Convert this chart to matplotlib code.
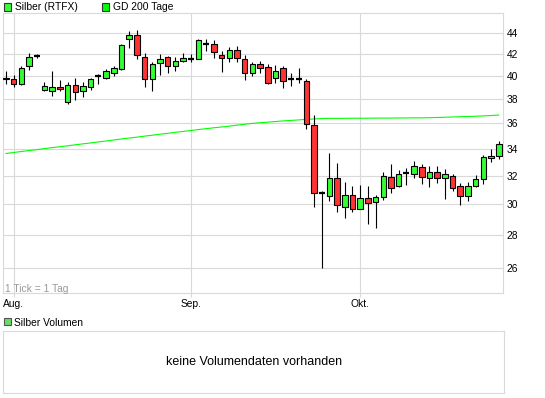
import matplotlib
matplotlib.use("Agg")
import matplotlib.pyplot as plt
import numpy as np
from matplotlib.patches import Rectangle
from matplotlib.ticker import NullLocator

plt.rcParams["font.family"] = ["Liberation Sans", "DejaVu Sans"]

# -- Daily candles, 29.07. - 27.10. (one entry per trading day)
opens = [39.70, 39.70, 39.25, 40.87, 41.80, 38.78, 38.69, 39.04, 37.74, 39.22,
         38.69, 39.04, 40.00, 39.85, 40.30, 40.60, 43.43, 43.81, 41.72, 39.70,
         41.16, 41.72, 40.87, 41.34, 41.59, 41.53, 42.95, 42.95, 41.90, 41.62,
         42.38, 41.53, 40.30, 41.06, 40.78, 39.85, 40.69, 39.74, 39.74, 39.59,
         35.84, 30.81, 30.60, 31.86, 29.85, 30.67, 29.72, 30.47, 30.19, 30.49,
         31.93, 31.30, 32.17, 32.15, 32.59, 31.81, 32.25, 31.81, 32.00, 31.30,
         30.56, 31.30, 31.74, 33.28, 33.43]
highs = [40.40, 40.05, 40.87, 42.12, 42.06, 39.43, 40.42, 39.60, 39.43, 39.85,
         39.46, 39.85, 40.20, 40.60, 40.94, 42.95, 44.20, 44.30, 42.10, 41.25,
         42.00, 41.81, 41.70, 42.10, 42.00, 43.43, 43.43, 43.33, 42.28, 42.67,
         42.76, 41.94, 41.25, 41.34, 41.06, 40.97, 40.87, 40.30, 40.69, 39.77,
         36.65, 30.95, 33.63, 32.89, 31.53, 31.28, 31.37, 31.30, 30.65, 32.27,
         32.86, 32.44, 32.57, 33.06, 32.84, 32.69, 32.69, 32.49, 32.15, 31.46,
         31.53, 32.05, 33.50, 33.95, 34.55]
lows = [39.30, 39.00, 39.20, 40.56, 41.60, 38.69, 38.24, 38.69, 37.60, 37.90,
        38.15, 38.78, 39.28, 39.76, 40.00, 40.50, 42.57, 41.50, 39.00, 38.69,
        40.12, 40.30, 40.40, 41.25, 41.25, 41.53, 42.28, 41.62, 40.37, 41.31,
        41.25, 39.64, 40.03, 40.30, 39.30, 39.39, 38.96, 39.13, 39.39, 35.53,
        29.85, 26.04, 30.26, 29.47, 29.09, 29.53, 29.72, 28.70, 28.47, 30.28,
        30.77, 31.23, 31.37, 31.86, 31.44, 31.23, 31.51, 30.40, 30.91, 29.96,
        30.26, 31.23, 31.39, 32.99, 33.18]
closes = [39.85, 39.25, 40.69, 41.72, 41.80, 39.13, 39.04, 38.87, 39.22, 38.60,
          39.13, 39.70, 40.00, 40.40, 40.69, 42.86, 43.81, 41.90, 39.70, 41.06,
          41.53, 40.87, 41.34, 41.62, 41.59, 43.33, 42.95, 42.19, 41.62, 42.38,
          41.62, 40.30, 41.06, 40.69, 39.33, 40.40, 39.59, 39.74, 39.74, 35.92,
          30.77, 30.81, 31.86, 29.96, 30.67, 29.70, 30.42, 30.07, 30.49, 32.00,
          31.12, 32.15, 32.17, 32.67, 31.88, 32.25, 31.81, 32.10, 31.12, 30.56,
          31.30, 31.74, 33.36, 33.43, 34.37]
# GD 200 Tage
sma200 = [33.63, 33.70, 33.78, 33.85, 33.92, 34.00, 34.07, 34.14, 34.21, 34.29,
          34.36, 34.43, 34.51, 34.58, 34.66, 34.74, 34.81, 34.88, 34.96, 35.03,
          35.11, 35.18, 35.26, 35.33, 35.40, 35.48, 35.55, 35.62, 35.68, 35.75,
          35.83, 35.90, 35.97, 36.02, 36.07, 36.12, 36.17, 36.21, 36.25, 36.30,
          36.33, 36.36, 36.38, 36.38, 36.38, 36.39, 36.39, 36.39, 36.40, 36.40,
          36.40, 36.41, 36.41, 36.42, 36.42, 36.43, 36.45, 36.47, 36.49, 36.51,
          36.53, 36.55, 36.58, 36.61, 36.65]

month_pos = [1, 24, 46]
month_labels = ["Aug.", "Sep.", "Okt."]
y_ticks = [26, 28, 30, 32, 34, 36, 38, 40, 42, 44]

W, H = 545, 398
GRID = "#d9d9d9"
GREEN = "#33ff33"
RED = "#ff3333"
FS = 7.4


def fx(px):
    return px / W


def fy(py):
    return 1 - py / H


fig = plt.figure(figsize=(W / 100, H / 100), dpi=100)

# -- price panel
ax = fig.add_axes([fx(3), fy(293), 500 / W, 280 / H])
ax.set_yscale("log")
ax.set_ylim(24.61, 46.05)
ax.set_xlim(-0.39, 64.55)

idx = np.arange(len(opens))
o = np.array(opens)
c = np.array(closes)
doji = np.isclose(o, c)
colors = np.array([GREEN if cc > oo else RED for oo, cc in zip(o, c)])

ax.plot(idx, sma200, color="#00ff00", lw=0.8, zorder=2)
ax.vlines(idx, lows, highs, color="black", lw=0.8, zorder=3)
ax.bar(idx[~doji], np.abs(c - o)[~doji], bottom=np.minimum(o, c)[~doji],
       width=0.72, color=colors[~doji], edgecolor="black", lw=0.8, zorder=4)
ax.hlines(o[doji], idx[doji] - 0.38, idx[doji] + 0.38, color="black", lw=1.6, zorder=4)

ax.yaxis.tick_right()
ax.yaxis.set_minor_locator(NullLocator())
ax.set_yticks(y_ticks)
ax.set_yticklabels([str(t) for t in y_ticks])
ax.set_xticks(month_pos)
ax.set_xticklabels(month_labels)
ax.tick_params(axis="y", length=0, pad=2.5, labelsize=FS)
ax.tick_params(axis="x", length=3, color=GRID, pad=1.5, labelsize=FS)
ax.grid(True, color=GRID, lw=0.8, zorder=0)
for s in ax.spines.values():
    s.set_color(GRID)
    s.set_linewidth(0.8)

fig.text(fx(5), fy(291.5), "1 Tick = 1 Tag", fontsize=FS, color="#999999", va="baseline")


# -- legends
def legend_box(x, y, fill, edge):
    fig.add_artist(Rectangle((fx(x), fy(y + 7)), 7 / W, 7 / H, transform=fig.transFigure,
                             facecolor=fill, edgecolor=edge, lw=0.8))


legend_box(3.5, 3.5, GREEN, "#333333")
fig.text(fx(15), fy(10.5), "Silber (RTFX)", fontsize=FS, va="baseline")
legend_box(102, 3.5, "#00ff00", "#333333")
fig.text(fx(113), fy(10.5), "GD 200 Tage", fontsize=FS, va="baseline")

legend_box(3.5, 318, "#66dd66", "#555555")
fig.text(fx(14), fy(325.5), "Silber Volumen", fontsize=FS, va="baseline")

# -- volume panel (empty)
ax2 = fig.add_axes([fx(2.8), fy(393.4), 501.7 / W, 62.7 / H])
ax2.set_xticks([])
ax2.set_yticks([])
for s in ax2.spines.values():
    s.set_color(GRID)
    s.set_linewidth(0.8)
ax2.text(0.5, 0.5, "keine Volumendaten vorhanden", fontsize=9, ha="center", va="center",
         transform=ax2.transAxes)

fig.savefig("out.png", dpi=100)
